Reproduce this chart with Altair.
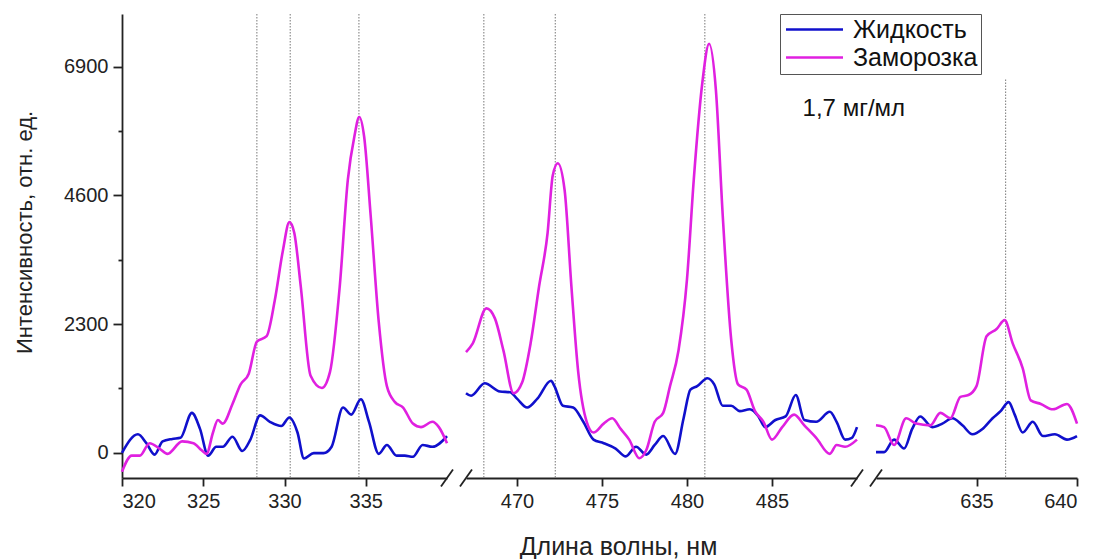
import altair as alt
import pandas as pd

FONT = "Liberation Sans"
SERIES = ["Жидкость", "Заморозка"]
COLORS = ["#1010CC", "#E020E0"]

# ---------- segment 1: 320-340 nm ----------
s1_liq_x = [320.0, 320.98, 321.5, 322.0, 322.5, 323.1, 323.6, 324.3, 324.8, 325.3, 325.8, 326.2, 326.8,
            327.4, 327.9, 328.5, 329.1, 329.8, 330.3, 330.8, 331.2, 331.8, 332.4, 332.9, 333.6, 334.1,
            334.7, 335.2, 335.8, 336.3, 336.9, 337.4, 337.9, 338.5, 339.1, 340.0]
s1_liq_y = [0, 331, 172, -32, 204, 248, 268, 714, 427, -51, 108, 108, 287,
            32, 236, 669, 554, 478, 631, 363, -102, -6, -6, 108, 809, 682,
            956, 554, -19, 140, -51, -51, -70, 140, 108, 300]
s1_frz_x = [320.0, 320.6, 321.1, 321.7, 322.3, 322.8, 323.7, 324.4, 324.9, 325.2, 325.6, 325.9, 326.2,
            326.8, 327.3, 327.8, 328.3, 328.9, 329.4, 329.9, 330.3, 330.6, 331.0, 331.6, 332.3, 332.8,
            333.4, 333.9, 334.3, 334.6, 334.9, 335.3, 335.8, 336.3, 336.8, 337.3, 337.9, 338.4, 339.1,
            339.5, 340.0]
s1_frz_y = [-338, -51, -51, 172, 76, -19, 204, 172, 45, -19, 363, 586, 522,
            873, 1223, 1414, 1988, 2083, 2720, 3612, 4122, 3931, 2975, 1382, 1159, 1446,
            2975, 4887, 5651, 6001, 5651, 4249, 2338, 1191, 905, 809, 522, 459, 554,
            459, 172]

# ---------- segment 2: 467-490 nm ----------
s2_liq_x = [467.0, 467.3, 468.1, 469.0, 469.6, 470.0, 470.6, 471.2, 472.0, 472.2, 472.7, 473.3, 473.9,
            474.5, 475.1, 475.8, 476.4, 477.0, 477.6, 478.1, 478.6, 479.3, 479.8, 480.2, 480.6, 481.2,
            481.6, 482.1, 482.6, 483.1, 483.7, 484.2, 484.6, 485.2, 485.8, 486.4, 486.9, 487.6, 488.4,
            488.8, 489.3, 489.7, 490.0]
s2_liq_y = [1064, 1019, 1242, 1096, 1083, 968, 809, 968, 1287, 1191, 841, 809, 554,
            236, 172, 76, -64, 108, -32, 140, 300, -19, 618, 1128, 1191, 1332,
            1223, 841, 841, 745, 777, 650, 459, 586, 650, 1032, 586, 554, 733,
            554, 236, 268, 459]
s2_frz_x = [467.0, 467.4, 468.2, 468.7, 469.2, 469.8, 470.3, 470.8, 471.3, 471.8, 472.1, 472.4, 472.8,
            473.2, 473.6, 474.1, 474.5, 475.1, 475.6, 476.1, 476.6, 477.2, 477.6, 478.1, 478.6, 479.0,
            479.5, 480.0, 480.4, 480.9, 481.3, 481.7, 482.1, 482.6, 483.0, 483.5, 484.0, 484.5, 485.0,
            485.6, 486.3, 486.9, 487.6, 488.4, 488.8, 489.3, 490.0]
s2_frz_y = [1797, 1956, 2580, 2402, 1829, 1064, 1255, 1956, 2975, 3931, 4950, 5173, 4695,
            2975, 1446, 554, 363, 522, 618, 427, 236, -96, 45, 554, 714, 1191,
            1829, 3103, 4887, 6607, 7308, 6480, 4249, 2020, 1223, 1128, 745, 554, 236,
            459, 682, 491, 268, -19, 140, 108, 236]

# ---------- segment 3: 630-640 nm ----------
s3_liq_x = [630.0, 630.4, 630.9, 631.4, 631.8, 632.2, 632.8, 633.3, 633.8, 634.3, 634.8, 635.3, 635.8,
            636.2, 636.6, 636.9, 637.3, 637.8, 638.3, 638.9, 639.5, 640.0]
s3_liq_y = [13, 13, 236, 76, 427, 650, 459, 522, 618, 491, 331, 427, 618,
            745, 905, 682, 363, 554, 300, 331, 236, 300]
s3_frz_x = [630.0, 630.4, 630.9, 631.5, 632.0, 632.7, 633.2, 633.7, 634.2, 634.6, 635.0, 635.5, 636.0,
            636.4, 636.8, 637.3, 637.7, 638.2, 638.8, 639.5, 640.0]
s3_frz_y = [491, 459, 140, 618, 522, 491, 714, 618, 1000, 1032, 1191, 2083, 2211,
            2370, 1956, 1510, 937, 873, 777, 873, 522]

# dotted marker lines (nm) and their upper ends (intensity)
mark_seg = [1, 1, 1, 2, 2, 2, 3]
mark_wl = [328.3, 330.35, 334.58, 468.05, 472.25, 481.05, 636.45]
mark_top = [7840, 7840, 7840, 7840, 7840, 7840, 6670]

Y_MIN, Y_MAX = -450, 7840
Y_TICKS = [0, 1150, 2300, 3450, 4600, 5750, 6900]

rows = []
for seg, sets in [(1, [(s1_liq_x, s1_liq_y, SERIES[0]), (s1_frz_x, s1_frz_y, SERIES[1])]),
                  (2, [(s2_liq_x, s2_liq_y, SERIES[0]), (s2_frz_x, s2_frz_y, SERIES[1])]),
                  (3, [(s3_liq_x, s3_liq_y, SERIES[0]), (s3_frz_x, s3_frz_y, SERIES[1])])]:
    for xs, ys, name in sets:
        for x, y in zip(xs, ys):
            rows.append({"seg": seg, "wl": x, "val": y, "series": name})
df = pd.DataFrame(rows)
marks = pd.DataFrame({"seg": mark_seg, "wl": mark_wl, "top": mark_top,
                      "bot": [Y_MIN] * len(mark_wl)})

H = 464
AX = "#222222"


def x_axis(ticks, title=None, **kw):
    return alt.Axis(values=ticks, format="d", title=title, domainColor=AX, domainWidth=1.8,
                    tickColor=AX, tickWidth=1.8, tickSize=8, labelFont=FONT, labelFontSize=20,
                    labelColor=AX, labelPadding=5, grid=False, **kw)


def y_axis(show):
    if not show:
        return None
    return alt.Axis(values=Y_TICKS, format="d", title="Интенсивность, отн. ед.",
                    labelExpr="datum.value % 2300 === 0 ? datum.label : ''",
                    tickSize={"condition": {"test": "datum.value % 2300 === 0", "value": 9}, "value": 4},
                    domainColor=AX, domainWidth=1.8, tickColor=AX, tickWidth=1.8,
                    labelFont=FONT, labelFontSize=20, labelColor=AX, labelPadding=5, grid=False,
                    titleFont=FONT, titleFontSize=22, titleFontWeight="normal", titleColor=AX,
                    titleAngle=270, titleX=-91, titleY=218, titleAlign="center",
                    titleBaseline="alphabetic")


def panel(seg, dom, ticks, width, show_y=False, xtitle=None, left_break=False, right_break=False,
          extra_axis=None, note=None):
    xa = x_axis(ticks, xtitle, **(extra_axis or {}))
    ya = y_axis(show_y)
    xs = alt.Scale(domain=dom, nice=False, zero=False)
    ys = alt.Scale(domain=[Y_MIN, Y_MAX], nice=False, zero=False)

    lines = alt.Chart(df[df.seg == seg]).mark_line(strokeWidth=2.6, interpolate="monotone").encode(
        x=alt.X("wl:Q", scale=xs, axis=xa),
        y=alt.Y("val:Q", scale=ys, axis=ya),
        color=alt.Color("series:N", scale=alt.Scale(domain=SERIES, range=COLORS),
                        legend=alt.Legend(title=None)),
    )
    rules = alt.Chart(marks[marks.seg == seg]).mark_rule(
        color="#777777", strokeWidth=1, strokeDash=[1.5, 1.5]).encode(
        x=alt.X("wl:Q", scale=xs, axis=xa),
        y=alt.Y("top:Q", scale=ys, axis=ya),
        y2="bot:Q",
    )
    layers = [rules, lines]
    one = pd.DataFrame({"k": [0]})
    if right_break:
        layers.append(alt.Chart(one).mark_rule(color=AX, strokeWidth=1.8).encode(
            x=alt.value(width - 6), x2=alt.value(width + 6),
            y=alt.value(H + 8.5), y2=alt.value(H - 8.5)))
    if left_break:
        layers.append(alt.Chart(one).mark_rule(color=AX, strokeWidth=1.8).encode(
            x=alt.value(-6), x2=alt.value(6),
            y=alt.value(H + 8.5), y2=alt.value(H - 8.5)))
    if note is not None:
        layers.append(alt.Chart(pd.DataFrame(note)).mark_text(
            align="left", baseline="middle", font=FONT, fontSize=24, color="#111111").encode(
            x=alt.X("wl:Q", scale=xs, axis=xa),
            y=alt.Y("val:Q", scale=ys, axis=ya),
            text="txt:N"))
    return alt.layer(*layers).properties(width=width, height=H)


p1 = panel(1, [320, 340], [320, 325, 330, 335], 325, show_y=True, right_break=True)
p2 = panel(2, [467, 490], [470, 475, 480, 485], 391, xtitle="Длина волны, нм",
           left_break=True, right_break=True,
           extra_axis=dict(titleFont=FONT, titleFontSize=25, titleFontWeight="normal",
                           titleColor=AX, titleX=152, titleY=76, titleAlign="center",
                           titleBaseline="alphabetic"),
           note={"wl": [486.8], "val": [6140], "txt": ["1,7 мг/мл"]})
p3 = panel(3, [630, 640], [635, 640], 201, left_break=True)

chart = alt.hconcat(p1, p2, p3, spacing=19, bounds="flush").properties(
    padding={"left": 5, "top": 5, "right": 0, "bottom": 0}
).configure_view(stroke=None).configure_legend(
    orient="none", legendX=658, legendY=0, strokeColor="#555555", fillColor="white",
    padding=3, labelFont=FONT, labelFontSize=25, labelColor="#111111",
    symbolType="M-1,0H5", symbolStrokeWidth=2.6, symbolSize=361, labelOffset=45, rowPadding=2,
)

chart.save("out.html", embed_options={"renderer": "svg", "actions": False})
